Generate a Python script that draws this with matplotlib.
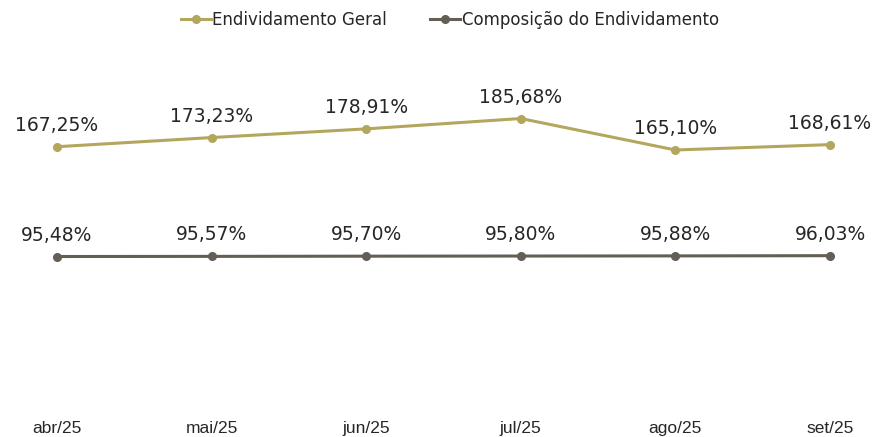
import matplotlib.pyplot as plt

months = ["abr/25", "mai/25", "jun/25", "jul/25", "ago/25", "set/25"]
endiv_geral = [167.25, 173.23, 178.91, 185.68, 165.10, 168.61]
composicao = [95.48, 95.57, 95.70, 95.80, 95.88, 96.03]

gold = "#B3A75E"
dark = "#645F55"

fig = plt.figure(figsize=(8.74, 4.37), dpi=100)
ax = fig.add_axes([57 / 874, 34.4 / 437, (830 - 57) / 874, 382.5 / 437])

x = list(range(len(months)))
ax.plot(x, endiv_geral, color=gold, lw=2.2, marker="o", ms=5.5,
        label="Endividamento Geral", clip_on=False)
ax.plot(x, composicao, color=dark, lw=2.2, marker="o", ms=5.5,
        label="Composição do Endividamento", clip_on=False)

for series in (endiv_geral, composicao):
    for xi, v in zip(x, series):
        ax.annotate(f"{v:.2f}%".replace(".", ","), (xi, v), xytext=(0, 11.5),
                    textcoords="offset points", ha="center", va="baseline",
                    fontsize=13.5, color="#262626")

ax.set_xlim(0, 5)
ax.set_ylim(0, 250)
ax.set_yticks([])
ax.set_xticks(x)
ax.set_xticklabels(months, fontsize=12.5, color="#262626", family="Liberation Sans")
ax.tick_params(axis="x", length=0, pad=13.5)
for s in ax.spines.values():
    s.set_visible(False)

fig.legend(loc="center", bbox_to_anchor=(450 / 874, 1 - 20 / 437), ncol=2, frameon=False,
           fontsize=12, handlelength=1.8, handletextpad=0.1, columnspacing=2.6,
           labelcolor="#262626")

fig.savefig("out.png", dpi=100)
